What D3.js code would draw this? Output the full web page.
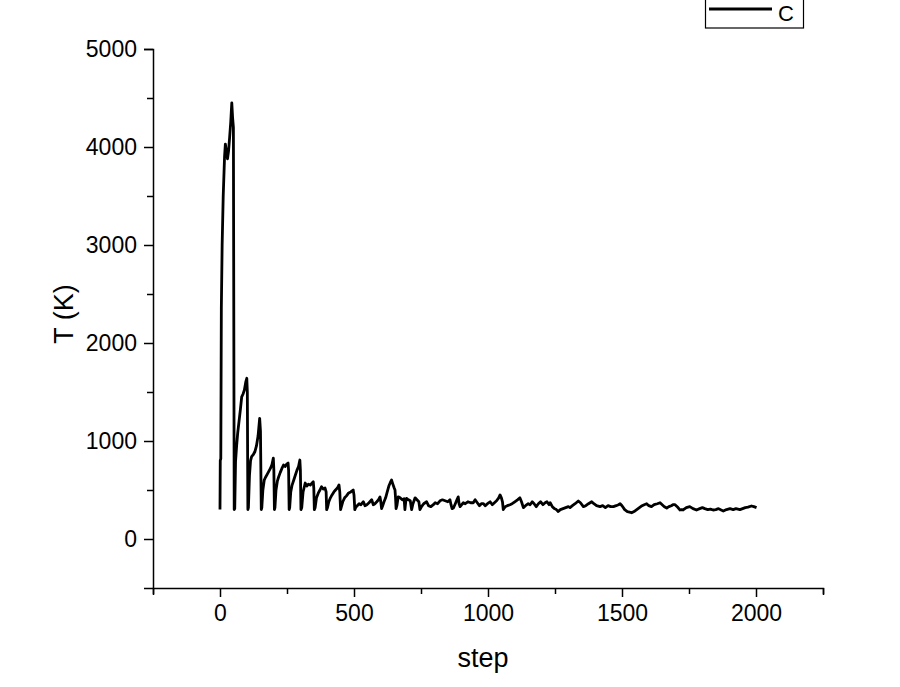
<!DOCTYPE html>
<html>
<head>
<meta charset="utf-8">
<script src="https://cdn.jsdelivr.net/npm/d3@7"></script>
<style>
    body { margin: 0; background: #fff; }
    text { font-family: "Liberation Sans", Arial, sans-serif; fill: #000; }
</style>
</head>
<body>
<div id="chart"></div>
<script>
"use strict";

// series "C": temperature per step
var steps = [
    0, 1, 3, 5, 8, 12, 17, 20, 24, 28, 32, 36, 40, 44, 47, 50, 53,
    55, 58, 62, 66, 71, 76, 81, 86, 91, 96, 100, 102, 104,
    106, 110, 114, 118, 124, 130, 136, 142, 148, 151, 154,
    156, 160, 165, 170, 176, 182, 188, 194, 199, 201, 203,
    205, 209, 214, 219, 225, 231, 237, 243, 249, 254, 256, 258,
    260, 264, 269, 275, 281, 287, 293, 298, 300, 302,
    305, 310, 318, 324, 330, 337, 343, 348, 350, 352,
    355, 360, 367, 373, 379, 385, 392, 396, 398,
    401, 406, 412, 418, 425, 431, 438, 444, 447, 450,
    452, 458, 465, 472, 480, 488, 497, 500, 503,
    506, 512, 519, 526, 535, 541, 548, 556, 566, 572, 578, 585, 591, 597, 600, 603,
    607, 612, 618, 624, 630, 636, 640, 645, 650, 653, 655, 657,
    660, 665, 672, 680, 687, 690, 693, 696, 703, 710, 715, 720, 728, 735, 742, 746,
    752, 760, 771, 778, 787, 796, 803, 812, 821, 830, 840, 850, 858, 862, 866,
    871, 878, 884, 889, 892, 896, 902, 908, 915, 925, 935, 945, 952, 960, 968,
    975, 983, 990, 998, 1008, 1016, 1024, 1032, 1040, 1045, 1050, 1054, 1057,
    1064, 1072, 1082, 1090, 1100, 1110, 1119, 1125, 1132, 1140, 1150, 1157,
    1165, 1172, 1180, 1188, 1196, 1205, 1213, 1220, 1228, 1232, 1240, 1248,
    1255, 1262, 1270, 1280, 1290, 1300, 1306, 1315, 1325, 1337, 1345, 1356,
    1365, 1375, 1387, 1395, 1405, 1418, 1428, 1438, 1448, 1458, 1468, 1478,
    1487, 1493, 1500, 1510, 1520, 1528, 1536, 1545, 1555, 1565, 1575, 1583,
    1592, 1600, 1610, 1620, 1632, 1642, 1650, 1658, 1667, 1675, 1684, 1690,
    1698, 1706, 1716, 1722, 1728, 1740, 1753, 1765, 1778, 1790, 1800, 1809,
    1820, 1830, 1840, 1850, 1860, 1870, 1878, 1890, 1903, 1915, 1925, 1940,
    1950, 1960, 1970, 1983, 1992, 2002
];
var temps = [
    300, 800, 820, 2350, 3000, 3500, 3900, 4030, 3950, 3880, 3960, 4100, 4250, 4450, 4300, 4200, 300,
    310, 790, 950, 1080, 1200, 1320, 1450, 1480, 1520, 1600, 1640, 1500, 300,
    320, 650, 800, 840, 860, 890, 950, 1050, 1230, 1100, 300,
    320, 500, 600, 630, 660, 690, 720, 760, 826, 700, 300,
    320, 500, 590, 635, 680, 720, 755, 740, 765, 775, 700, 300,
    320, 480, 550, 600, 650, 700, 740, 806, 700, 300,
    320, 480, 571, 540, 560, 550, 570, 585, 520, 300,
    320, 420, 470, 500, 534, 510, 520, 480, 300,
    320, 380, 420, 450, 480, 500, 520, 551, 480, 300,
    320, 380, 420, 440, 470, 480, 500, 450, 300,
    320, 340, 360, 350, 380, 340, 350, 370, 400, 350, 360, 380, 400, 430, 380, 310,
    340, 380, 420, 480, 540, 580, 602, 560, 520, 500, 420, 310,
    340, 430, 420, 400, 410, 300, 380, 415, 400, 390, 300, 360, 420, 400, 380, 300,
    330, 360, 380, 340, 330, 350, 370, 360, 390, 400, 390, 380, 400, 350, 310,
    316, 360, 400, 430, 360, 330, 350, 370, 360, 380, 370, 370, 400, 370, 340,
    360, 360, 340, 360, 380, 350, 370, 390, 420, 450, 420, 380, 300,
    330, 340, 350, 360, 380, 400, 420, 380, 320, 340, 360, 350,
    380, 360, 330, 360, 380, 350, 370, 380, 350, 370, 330, 310,
    300, 280, 300, 310, 320, 330, 320, 340, 360, 388, 370, 330,
    340, 360, 380, 360, 340, 330, 340, 320, 340, 330, 330, 340,
    350, 360, 340, 300, 280, 275, 268, 280, 300, 320, 340, 350,
    360, 340, 330, 350, 360, 370, 350, 330, 316, 330, 340, 350,
    350, 330, 296, 300, 296, 320, 330, 310, 296, 310, 320, 310,
    300, 305, 296, 300, 310, 295, 285, 300, 310, 300, 310, 300,
    310, 320, 325, 337, 330, 320
];

var xTicks = [-250, 0, 250, 500, 750, 1000, 1250, 1500, 1750, 2000, 2250];
var xLabels = [0, 500, 1000, 1500, 2000];
var yTicks = [-500, 0, 500, 1000, 1500, 2000, 2500, 3000, 3500, 4000, 4500, 5000];
var yLabels = [0, 1000, 2000, 3000, 4000, 5000];
var seriesName = "C";

var width = 900;
var height = 687;

var x = d3.scaleLinear().domain([-250, 2250]).range([153, 823]);
var y = d3.scaleLinear().domain([-500, 5000]).range([588, 49]);

var svg = d3.select("#chart")
    .append("svg")
    .attr("width", width)
    .attr("height", height);

// x axis, long ticks on labelled values
var xAxis = svg.append("g")
    .attr("transform", "translate(0," + y(-500) + ")")
    .call(d3.axisBottom(x)
        .tickValues(xTicks)
        .tickSizeOuter(0)
        .tickSize(7)
        .tickFormat(function(d) { return xLabels.indexOf(d) >= 0 ? d : ""; }));
xAxis.selectAll(".tick line")
    .attr("y2", function(d) { return xLabels.indexOf(d) >= 0 ? 9 : 6; });

// y axis
var yAxis = svg.append("g")
    .attr("transform", "translate(" + x(-250) + ",0)")
    .call(d3.axisLeft(y)
        .tickValues(yTicks.filter(function(d) { return d > -500; }))
        .tickSizeOuter(0)
        .tickSize(9)
        .tickFormat(function(d) { return yLabels.indexOf(d) >= 0 ? d : ""; }));
yAxis.selectAll(".tick line")
    .attr("x2", function(d) { return yLabels.indexOf(d) >= 0 ? -9 : -6; });

[xAxis, yAxis].forEach(function(ax) {
    ax.attr("font-size", 23).attr("font-family", "'Liberation Sans', Arial, sans-serif");
    ax.select(".domain").attr("stroke", "#000").attr("stroke-width", 1.5);
    ax.selectAll(".tick line").attr("stroke", "#000").attr("stroke-width", 1.5);
    ax.selectAll(".tick text")
        .style("font-size", "23px")
        .attr("fill", "#000");
});
xAxis.selectAll(".tick text").attr("dy", "0.71em").attr("y", 17);
yAxis.selectAll(".tick text").attr("x", -16);

// axis titles
svg.append("text")
    .attr("x", x(1000) - 5)
    .attr("y", 667)
    .attr("text-anchor", "middle")
    .style("font-size", "27px")
    .text("step");

svg.append("text")
    .attr("transform", "translate(73,314) rotate(-90)")
    .attr("text-anchor", "middle")
    .style("font-size", "27px")
    .text("T (K)");

// the series
var line = d3.line()
    .x(function(d) { return x(d[0]); })
    .y(function(d) { return y(d[1]); });

svg.append("path")
    .datum(d3.zip(steps, temps))
    .attr("fill", "none")
    .attr("stroke", "#000")
    .attr("stroke-width", 2.8)
    .attr("stroke-linejoin", "round")
    .attr("d", line);

// legend, cut off by the top edge
var legend = svg.append("g");
legend.append("rect")
    .attr("x", 705.5)
    .attr("y", -10)
    .attr("width", 98)
    .attr("height", 38)
    .attr("fill", "none")
    .attr("stroke", "#000")
    .attr("stroke-width", 1.2);
legend.append("line")
    .attr("x1", 709)
    .attr("x2", 772)
    .attr("y1", 9)
    .attr("y2", 9)
    .attr("stroke", "#000")
    .attr("stroke-width", 2.8);
legend.append("text")
    .attr("x", 778)
    .attr("y", 20.5)
    .style("font-size", "22px")
    .text(seriesName);
</script>
</body>
</html>
